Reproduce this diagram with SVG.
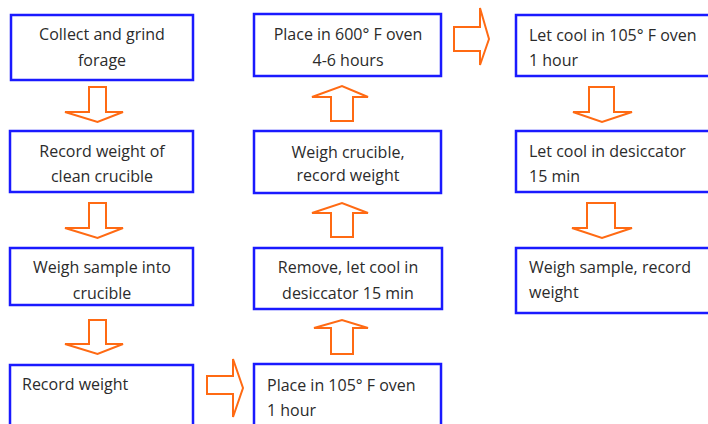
<svg xmlns="http://www.w3.org/2000/svg" width="708" height="424" viewBox="0 0 708 424">
<style>
.box{fill:#fff;stroke:#1a1aff;stroke-width:2.5}
.arr{fill:#fff;stroke:#ff6a13;stroke-width:2;stroke-linejoin:miter}
text{font-family:"Open Sans","Liberation Sans",sans-serif;font-size:16px;fill:#2b2b2b}
.c{text-anchor:middle}
</style>
<rect width="708" height="424" fill="#fff"/>
<g id="connectors">
<polygon class="arr" points="89,87 106,87 106,112 123,112 97.5,122 65,112 89,112"/>
<polygon class="arr" points="89,203 106,203 106,228 123,228 97.5,238 65,228 89,228"/>
<polygon class="arr" points="89,320 106,320 106,344 123,344 97.5,354 65,344 89,344"/>
<polygon class="arr" points="207,376 233,376 233,359 243,388 233,417 233,394 207,394"/>
<polygon class="arr" points="331,354 353,354 353,328 368,328 342,320 314,328 331,328"/>
<polygon class="arr" points="331,237 353,237 353,213 368,213 342,203 312,213 331,213"/>
<polygon class="arr" points="331,121 353,121 353,97 368,97 342,86 312,97 331,97"/>
<polygon class="arr" points="454,27 480,27 480,8 489,39 480,65 480,51 454,51"/>
<polygon class="arr" points="589,87 614,87 614,112 632,112 602,122 573,112 589,112"/>
<polygon class="arr" points="587,203 615,203 615,228 632,228 602,238 572,228 587,228"/>
</g>
<g id="n1"><rect class="box" x="11" y="15" width="182" height="65"/><text class="c" x="102" y="40">Collect and grind</text><text class="c" x="102" y="66">forage</text></g>
<g id="n2"><rect class="box" x="10" y="131" width="183" height="61"/><text class="c" x="102" y="157">Record weight of</text><text class="c" x="102" y="182">clean crucible</text></g>
<g id="n3"><rect class="box" x="10" y="248" width="183" height="57"/><text class="c" x="102" y="273">Weigh sample into</text><text class="c" x="102" y="299">crucible</text></g>
<g id="n4"><rect class="box" x="10" y="365" width="183" height="70"/><text x="22" y="390">Record weight</text></g>
<g id="n5"><rect class="box" x="254" y="364" width="187" height="70"/><text x="267" y="391">Place in 105° F oven</text><text x="267" y="416">1 hour</text></g>
<g id="n6"><rect class="box" x="254" y="248" width="188" height="61"/><text class="c" x="348" y="273">Remove, let cool in</text><text class="c" x="348" y="299">desiccator 15 min</text></g>
<g id="n7"><rect class="box" x="254" y="131" width="187" height="62"/><text class="c" x="348" y="158">Weigh crucible,</text><text class="c" x="348" y="181">record weight</text></g>
<g id="n8"><rect class="box" x="254" y="14" width="187" height="62"/><text class="c" x="348" y="40">Place in 600° F oven</text><text class="c" x="348" y="66">4-6 hours</text></g>
<g id="n9"><rect class="box" x="516" y="15" width="200" height="61"/><text x="529" y="41">Let cool in 105° F oven</text><text x="529" y="66">1 hour</text></g>
<g id="n10"><rect class="box" x="516" y="131" width="200" height="61"/><text x="529" y="157">Let cool in desiccator</text><text x="529" y="182">15 min</text></g>
<g id="n11"><rect class="box" x="516" y="248" width="200" height="65"/><text x="529" y="273">Weigh sample, record</text><text x="529" y="298">weight</text></g>
</svg>
